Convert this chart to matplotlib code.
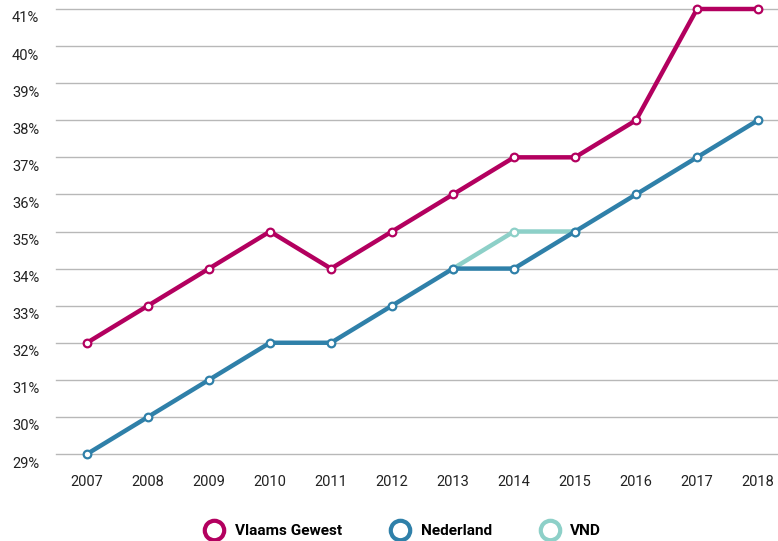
import matplotlib
matplotlib.use("Agg")
import matplotlib.pyplot as plt
import matplotlib.transforms as mtransforms
from matplotlib.lines import Line2D

years = [2007, 2008, 2009, 2010, 2011, 2012, 2013, 2014, 2015, 2016, 2017, 2018]
vlaams = [32, 33, 34, 35, 34, 35, 36, 37, 37, 38, 41, 41]
nederland = [29, 30, 31, 32, 32, 33, 34, 34, 35, 36, 37, 38]
vnd_years = [2013, 2014, 2015]
vnd = [34, 35, 35]
yticks = list(range(29, 42))

C_VL = "#b3005f"
C_NL = "#2f80a9"
C_VND = "#8dd0c8"

plt.rcParams["font.family"] = ["Roboto", "DejaVu Sans"]

fig = plt.figure(figsize=(7.78, 5.41), dpi=100)
ax = fig.add_axes([56 / 778, 87 / 541, 1 - 56 / 778, (454 - 9) / 541])

ax.set_xlim(2007 - 31 / 61, 2018 + 20 / 61)
ax.set_ylim(29, 41)

for y in yticks:
    ax.axhline(y, color="#b8b8b8", lw=1.0, zorder=0, clip_on=False)

mk = dict(marker="o", markersize=5.5, markerfacecolor="white", markeredgewidth=1.6,
          lw=3.2, clip_on=False, solid_capstyle="round")
ax.plot(vnd_years, vnd, color=C_VND, markeredgecolor=C_VND, zorder=2, **mk)
ax.plot(years, nederland, color=C_NL, markeredgecolor=C_NL, zorder=3, **mk)
ax.plot(years, vlaams, color=C_VL, markeredgecolor=C_VL, zorder=4, **mk)

ax.set_xticks(years)
ax.set_xticklabels([str(y) for y in years], fontsize=10.5, color="#222222")
ax.set_yticks(yticks)
ax.set_yticklabels([f"{y}%" for y in yticks], fontsize=10.5, color="#222222")
ax.tick_params(length=0)
ax.tick_params(axis="x", pad=15)
ax.tick_params(axis="y", pad=12)
offset = mtransforms.ScaledTranslation(0, -8 / 100, fig.dpi_scale_trans)
for lab in ax.get_yticklabels():
    lab.set_transform(lab.get_transform() + offset)

for s in ax.spines.values():
    s.set_visible(False)

handles = [
    Line2D([], [], ls="none", marker="o", markersize=14, markerfacecolor="white",
           markeredgewidth=3, markeredgecolor=c)
    for c in (C_VL, C_NL, C_VND)
]
leg = fig.legend(handles, ["Vlaams Gewest", "Nederland", "VND"], loc="center",
                 bbox_to_anchor=(0.518, 10 / 541), ncol=3, frameon=False,
                 prop={"weight": "bold", "size": 11.1}, columnspacing=3.15,
                 handletextpad=0.75, handlelength=1.2)

fig.savefig("out.png", dpi=100)
